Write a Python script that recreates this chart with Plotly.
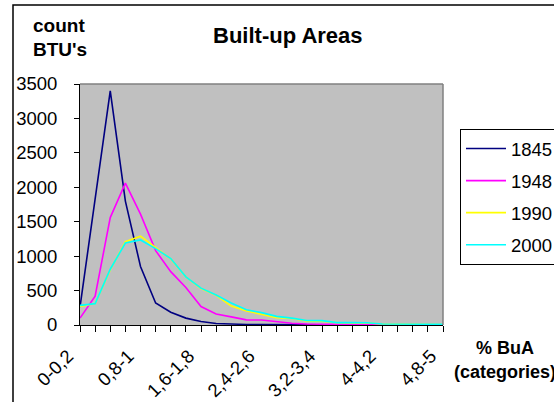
import plotly.graph_objects as go

categories = ["0-0,2", "0,2-0,4", "0,4-0,6", "0,6-0,8", "0,8-1", "1-1,2", "1,2-1,4",
              "1,4-1,6", "1,6-1,8", "1,8-2", "2-2,2", "2,2-2,4", "2,4-2,6", "2,6-2,8",
              "2,8-3", "3-3,2", "3,2-3,4", "3,4-3,6", "3,6-3,8", "3,8-4", "4-4,2",
              "4,2-4,4", "4,4-4,6", "4,6-4,8", "4,8-5"]
series_names = ["1845", "1948", "1990", "2000"]
v1845 = [260, 1850, 3400, 1800, 850, 320, 185, 100, 50, 22, 12, 8, 5, 3, 2, 2, 1, 1, 1, 0, 0, 0, 0, 0, 0]
v1948 = [100, 420, 1560, 2060, 1610, 1080, 775, 545, 268, 160, 118, 75, 72, 48, 25, 15, 10, 8, 5, 5, 3, 2, 2, 1, 1]
v1990 = [270, 310, 800, 1210, 1290, 1120, 960, 700, 530, 430, 275, 205, 155, 106, 95, 60, 55, 35, 30, 30, 15, 10, 8, 5, 5]
v2000 = [285, 310, 810, 1190, 1235, 1110, 965, 700, 535, 436, 320, 220, 180, 125, 100, 65, 63, 35, 35, 33, 15, 12, 10, 8, 10]
colors = ["#000080", "#FF00FF", "#FFFF00", "#00FFFF"]
tick_every = 4

W, H = 554, 402
L, R, T, B = 80, 443, 84, 325
FONT = "Arial, Liberation Sans, sans-serif"


def px(x):
    return (x - L) / (R - L)


def py(y):
    return (B - y) / (B - T)


fig = go.Figure()
for name, vals, col in zip(series_names, [v1845, v1948, v1990, v2000], colors):
    fig.add_trace(go.Scatter(x=categories, y=vals, mode="lines", name=name,
                             legendgroup=name,
                             line=dict(color=col, width=1.6)))

ticktext = [c if i % tick_every == 0 else "" for i, c in enumerate(categories)]

fig.update_layout(
    width=W, height=H,
    margin=dict(l=L, r=W - R, t=T, b=H - B, autoexpand=False),
    paper_bgcolor="white", plot_bgcolor="#C0C0C0",
    font=dict(family=FONT, size=18, color="black"),
    showlegend=True,
    legend=dict(x=px(460), y=py(129), xanchor="left", yanchor="top",
                bgcolor="white", bordercolor="black", borderwidth=1,
                font=dict(size=18.5), tracegroupgap=5, itemwidth=40,
                entrywidth=110),
    xaxis=dict(type="category", range=[0, len(categories) - 1],
               tickmode="array", tickvals=categories, ticktext=ticktext,
               tickangle=-45, ticks="outside", ticklen=6, tickcolor="black",
               ticklabelshift=-12, ticklabelstandoff=6,
               showline=True, linecolor="black", linewidth=1,
               showgrid=False, zeroline=False, tickfont=dict(size=18.5)),
    yaxis=dict(range=[0, 3500], dtick=500, ticks="outside", ticklen=5,
               tickcolor="black", showline=True, linecolor="black", linewidth=1,
               ticklabelstandoff=13,
               showgrid=False, zeroline=False, tickfont=dict(size=18.5)),
    shapes=[
        dict(type="line", xref="paper", yref="paper", x0=0, x1=1, y0=1, y1=1,
             line=dict(color="#808080", width=1.5)),
        dict(type="line", xref="paper", yref="paper", x0=1, x1=1, y0=0, y1=1,
             line=dict(color="#808080", width=1.5)),
        dict(type="rect", xref="paper", yref="paper", x0=px(13), x1=px(700),
             y0=py(600), y1=py(5), line=dict(color="black", width=1.5),
             layer="below"),
    ],
    annotations=[
        dict(text="<b>Built-up Areas</b>", xref="paper", yref="paper",
             x=px(288), y=py(35), xanchor="center", yanchor="middle",
             showarrow=False, font=dict(size=22)),
        dict(text="<b>count</b>", xref="paper", yref="paper",
             x=px(31), y=py(26), xanchor="left", yanchor="middle",
             showarrow=False, font=dict(size=19)),
        dict(text="<b>BTU's</b>", xref="paper", yref="paper",
             x=px(31), y=py(49), xanchor="left", yanchor="middle",
             showarrow=False, font=dict(size=19)),
        dict(text="<b>% BuA</b>", xref="paper", yref="paper",
             x=px(505), y=py(348), xanchor="center", yanchor="middle",
             showarrow=False, font=dict(size=18)),
        dict(text="<b>(categories)</b>", xref="paper", yref="paper",
             x=px(452), y=py(372), xanchor="left", yanchor="middle",
             showarrow=False, font=dict(size=18)),
    ],
)

fig.write_html("out.html")
